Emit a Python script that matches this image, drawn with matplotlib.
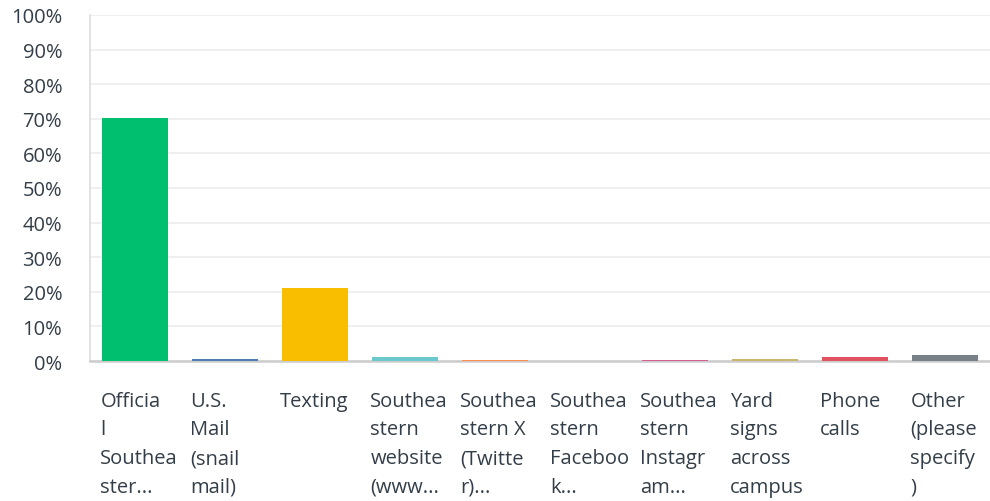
import matplotlib.pyplot as plt
from matplotlib.transforms import blended_transform_factory

plt.rcParams['font.family'] = ['Open Sans', 'DejaVu Sans']

labels = ["Officia\nl\nSouthea\nster...", "U.S.\nMail\n(snail\nmail)", "Texting",
          "Southea\nstern\nwebsite\n(www...", "Southea\nstern X\n(Twitte\nr)...",
          "Southea\nstern\nFaceboo\nk...", "Southea\nstern\nInstagr\nam...",
          "Yard\nsigns\nacross\ncampus", "Phone\ncalls", "Other\n(please\nspecify\n)"]
values = [70.2, 0.6, 21.1, 1.2, 0.3, 0.0, 0.3, 0.6, 1.2, 1.8]
colors = ["#00bf6f", "#507cb6", "#f9be00", "#6bc8cd", "#ff8b4f",
          "#7d5cad", "#d25f90", "#c9b66e", "#e05260", "#768086"]
yticks = list(range(0, 101, 10))

fig = plt.figure(figsize=(9.9, 5.02), dpi=100)
ax = fig.add_axes([90 / 990, 140 / 502, 900 / 990, 346 / 502])

width = 0.73
x = list(range(len(values)))
ax.bar(x, values, width=width, color=colors, zorder=5)

ax.set_xlim(-0.5, len(values) - 0.5)
ax.set_ylim(0, 100)
ax.set_yticks(yticks)
ax.set_yticklabels([f"{t}%" for t in yticks], fontsize=14.5, color="#333e48")
ax.set_xticks([])
ax.tick_params(axis='y', length=0, pad=20)
ax.grid(axis='y', color="#ececec", linewidth=1.2, zorder=0)
for s in ['top', 'right']:
    ax.spines[s].set_visible(False)
ax.spines['left'].set_color("#dddddd")
ax.spines['left'].set_linewidth(1.2)
ax.spines['bottom'].set_color("#cccccc")
ax.spines['bottom'].set_linewidth(1.8)
ax.spines['bottom'].set_zorder(4)

trans = blended_transform_factory(ax.transData, ax.transAxes)
for i, lab in enumerate(labels):
    ax.text(i - width / 2 - 0.02, -0.086, lab, transform=trans, ha='left', va='top',
            fontsize=14.5, color="#333e48", linespacing=1.58)

fig.savefig("out.png", dpi=100)
